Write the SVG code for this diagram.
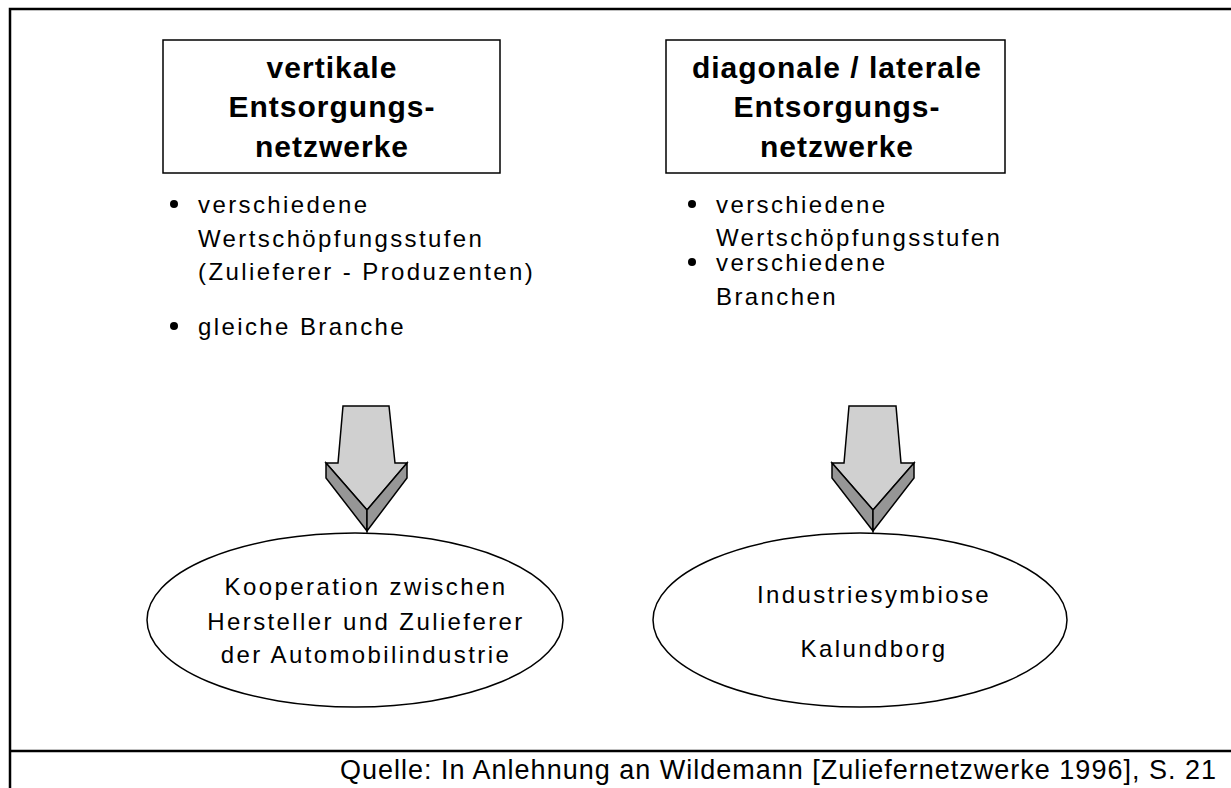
<svg xmlns="http://www.w3.org/2000/svg" width="1231" height="788" viewBox="0 0 1231 788">
<style>
.frame{stroke:#000;stroke-width:2.5;fill:none}
.box{fill:#fff;stroke:#000;stroke-width:1.5}
.ell{fill:#fff;stroke:#000;stroke-width:1.5}
.title{font-family:"Liberation Sans",Arial,sans-serif;font-weight:bold;font-size:30px;letter-spacing:1px;text-anchor:middle;fill:#000}
.body{font-family:"Liberation Sans",Arial,sans-serif;font-size:24px;letter-spacing:2.4px;fill:#000}
.mid{text-anchor:middle}
.front{fill:#d0d0d0;stroke:#000;stroke-width:1.5;stroke-linejoin:miter}
.side{fill:#969696;stroke:#000;stroke-width:1.5;stroke-linejoin:miter}
.src{font-family:"Liberation Sans",Arial,sans-serif;font-size:27px;fill:#000}
</style>
<rect width="1231" height="788" fill="#fff"/>
<g id="frame">
<polyline class="frame" points="1231,9 10,9 10,788"/>
<line class="frame" x1="10" y1="751" x2="1231" y2="751"/>
</g>
<g id="box-vertikal">
<rect class="box" x="163" y="40" width="337" height="133"/>
<text class="title" x="332" y="78">vertikale</text>
<text class="title" x="332" y="117">Entsorgungs-</text>
<text class="title" x="332" y="157">netzwerke</text>
</g>
<g id="box-diagonal">
<rect class="box" x="666" y="40" width="339" height="133"/>
<text class="title" x="837" y="78">diagonale / laterale</text>
<text class="title" x="837" y="117">Entsorgungs-</text>
<text class="title" x="837" y="157">netzwerke</text>
</g>
<g id="list-left">
<circle cx="174" cy="204" r="4"/>
<text class="body" x="198" y="213">verschiedene</text>
<text class="body" x="198" y="247">Wertschöpfungsstufen</text>
<text class="body" x="198" y="280">(Zulieferer - Produzenten)</text>
<circle cx="174" cy="326" r="4"/>
<text class="body" x="198" y="335">gleiche Branche</text>
</g>
<g id="list-right">
<circle cx="692" cy="204" r="4"/>
<text class="body" x="716" y="213">verschiedene</text>
<text class="body" x="716" y="246">Wertschöpfungsstufen</text>
<circle cx="692" cy="262" r="4"/>
<text class="body" x="716" y="271">verschiedene</text>
<text class="body" x="716" y="305">Branchen</text>
</g>
<g id="connectors">
<g id="arrow-left">
<polygon class="front" points="343,406 389,406 395,463 407,463 367,510 326,463 338,463"/>
<polygon class="side" points="326,463 367,510 367,531 326,478"/>
<polygon class="side" points="407,463 407,478 367,531 367,510"/>
</g>
<g id="arrow-right">
<polygon class="front" points="849,406 896,406 901,463 914,463 873,510 832,463 844,463"/>
<polygon class="side" points="832,463 873,510 873,531 832,478"/>
<polygon class="side" points="914,463 914,478 873,531 873,510"/>
</g>
</g>
<g id="ellipse-left">
<ellipse class="ell" cx="355" cy="620" rx="208" ry="87"/>
<text class="body mid" x="366" y="595">Kooperation zwischen</text>
<text class="body mid" x="366" y="630">Hersteller und Zulieferer</text>
<text class="body mid" x="366" y="663">der Automobilindustrie</text>
</g>
<g id="ellipse-right">
<ellipse class="ell" cx="860" cy="620" rx="207" ry="87"/>
<text class="body mid" x="874" y="603">Industriesymbiose</text>
<text class="body mid" x="874" y="657">Kalundborg</text>
</g>
<g id="source">
<text class="src" x="340" y="779" textLength="876" lengthAdjust="spacing">Quelle: In Anlehnung an Wildemann [Zuliefernetzwerke 1996], S. 21</text>
</g>
</svg>
